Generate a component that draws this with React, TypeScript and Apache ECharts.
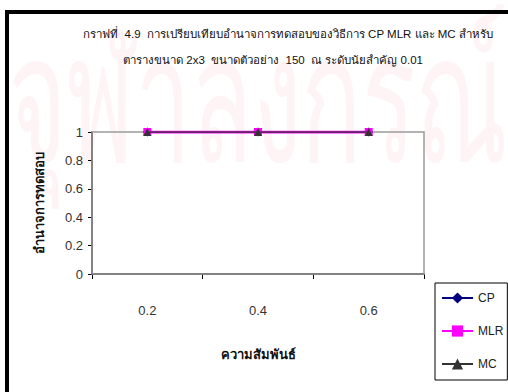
import React, { useEffect, useRef } from "react";
import * as echarts from "echarts";

const categories = ["0.2", "0.4", "0.6"];
const cpValues = [1, 1, 1];
const mlrValues = [1, 1, 1];
const mcValues = [1, 1, 1];
const yTicks = { min: 0, max: 1, interval: 0.2 };

const titleLine1 = "กราฟที่  4.9  การเปรียบเทียบอำนาจการทดสอบของวิธีการ CP MLR และ MC สำหรับ";
const titleLine2 = "ตารางขนาด 2x3  ขนาดตัวอย่าง  150  ณ ระดับนัยสำคัญ 0.01";
const xName = "ความสัมพันธ์";
const yName = "อำนาจการทดสอบ";
const watermark = "จุฬาลงกรณ์มหาวิทยาลัย";

const FONT = "'Liberation Sans', Arial, 'Noto Sans', 'DejaVu Sans', sans-serif";

export default function App() {
  const ref = useRef<HTMLDivElement>(null);

  useEffect(() => {
    if (!ref.current) return;
    const chart = echarts.init(ref.current, undefined, { renderer: "svg" });
    chart.setOption({
      animation: false,
      backgroundColor: "#ffffff",
      textStyle: { fontFamily: FONT },
      graphic: [
        {
          // faint page watermark behind the chart
          type: "text",
          x: 8,
          y: 10,
          scaleY: 1.8,
          z: -10,
          silent: true,
          style: {
            text: watermark,
            fontSize: 100,
            fontFamily: FONT,
            fill: "#fef4f6",
            verticalAlign: "top",
          },
        },
        {
          type: "rect",
          z: 100,
          silent: true,
          shape: { x: 7, y: 12, width: 520, height: 400 },
          style: { fill: "none", stroke: "#000", lineWidth: 4 },
        },
        {
          type: "rect",
          z: 1,
          silent: true,
          shape: { x: 92, y: 132, width: 332, height: 142 },
          style: { fill: "none", stroke: "#9a9a9a", lineWidth: 1.5 },
        },
      ],
      title: [
        {
          text: titleLine1,
          left: 283,
          top: 23,
          textAlign: "center",
          textStyle: { fontSize: 11.5, fontWeight: "normal", color: "#111", fontFamily: FONT },
        },
        {
          text: titleLine2,
          left: 268,
          top: 49,
          textAlign: "center",
          textStyle: { fontSize: 11.5, fontWeight: "normal", color: "#111", fontFamily: FONT },
        },
      ],
      grid: { left: 92, top: 132, right: 84, bottom: 118, containLabel: false },
      xAxis: {
        type: "category",
        data: categories,
        boundaryGap: true,
        name: xName,
        nameLocation: "middle",
        nameGap: 74,
        nameTextStyle: { fontSize: 13, fontWeight: "bold", color: "#111", verticalAlign: "top" },
        axisLine: { lineStyle: { color: "#000", width: 1.5 } },
        axisTick: { show: true, length: 5, lineStyle: { color: "#000" } },
        axisLabel: { margin: 30, fontSize: 13, color: "#333" },
        splitLine: { show: false },
      },
      yAxis: {
        type: "value",
        min: yTicks.min,
        max: yTicks.max,
        interval: yTicks.interval,
        name: yName,
        nameLocation: "middle",
        nameRotate: 90,
        nameGap: 46,
        nameTextStyle: { fontSize: 13, fontWeight: "bold", color: "#111" },
        axisLine: { show: true, lineStyle: { color: "#000", width: 1.5 } },
        axisTick: { show: true, length: 4, lineStyle: { color: "#000" } },
        axisLabel: { margin: 9, fontSize: 13, color: "#333" },
        splitLine: { show: false },
      },
      legend: {
        orient: "vertical",
        left: 435,
        top: 283,
        padding: [9, 4, 10, 6],
        itemGap: 21,
        itemWidth: 31,
        itemHeight: 14,
        borderColor: "#000",
        borderWidth: 1,
        textStyle: { fontSize: 12, color: "#222" },
        data: ["CP", "MLR", "MC"],
      },
      series: [
        {
          name: "CP",
          type: "line",
          data: cpValues,
          color: "#000080",
          symbol: "diamond",
          symbolSize: 9,
          lineStyle: { color: "#000080", width: 2 },
          itemStyle: { color: "#000080" },
          z: 2,
        },
        {
          name: "MLR",
          type: "line",
          data: mlrValues,
          color: "#ff00ff",
          symbol: "rect",
          symbolSize: 8,
          lineStyle: { color: "#ff00ff", width: 3 },
          itemStyle: { color: "#ff00ff" },
          z: 3,
        },
        {
          name: "MC",
          type: "line",
          data: mcValues,
          color: "#333333",
          symbol: "triangle",
          symbolSize: 8,
          lineStyle: { color: "#333333", width: 1.5 },
          itemStyle: { color: "#333333" },
          z: 4,
        },
      ],
    });
    return () => chart.dispose();
  }, []);

  return (
    <div
      ref={ref}
      style={{ position: "fixed", left: 0, top: 0, width: 508, height: 392 }}
    />
  );
}
